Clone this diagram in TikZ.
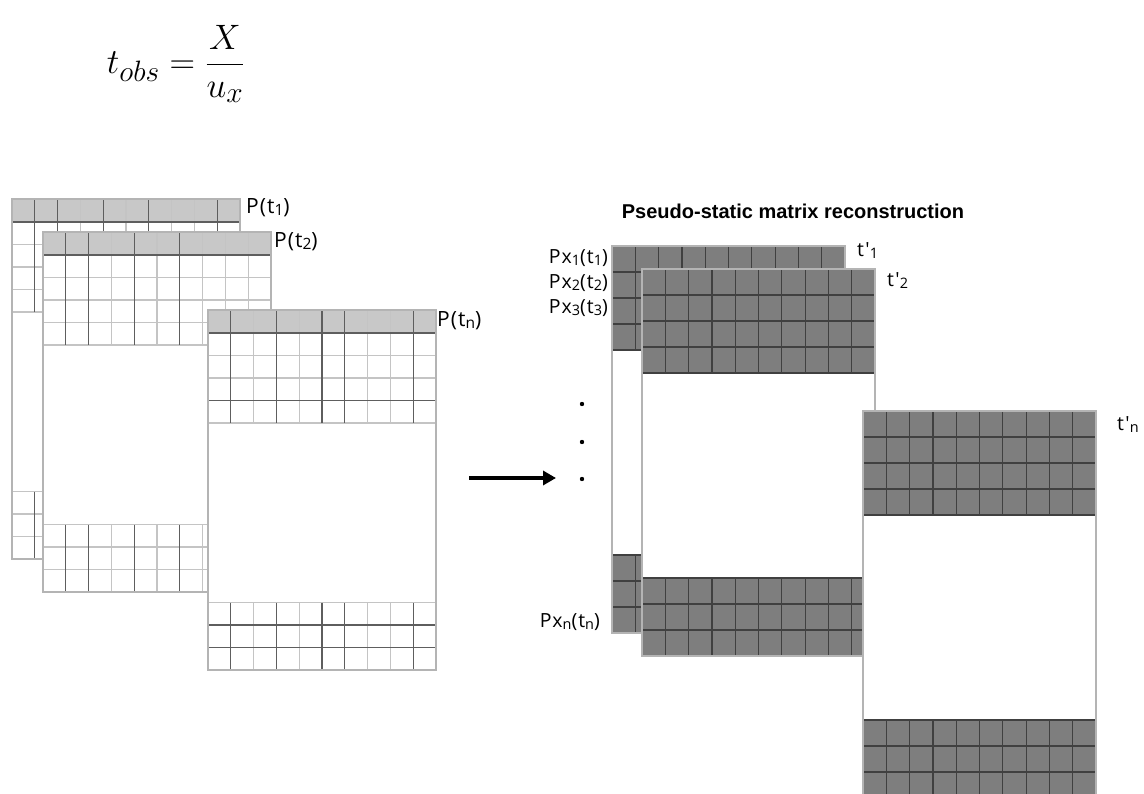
\documentclass[tikz,border=0pt]{standalone}
\usepackage{fontspec}
\usetikzlibrary{arrows.meta}
\newfontfamily\lblfont[LetterSpace=5]{Open Sans}
\newfontfamily\ttlfont{Liberation Sans}

\definecolor{hdrgray}{HTML}{C8C8C8}
\definecolor{frameline}{HTML}{B4B4B4}
\definecolor{gridlite}{HTML}{C4C4C4}
\definecolor{griddark}{HTML}{5E5E5E}
\definecolor{cellfill}{HTML}{7E7E7E}
\definecolor{cellline}{HTML}{404040}

% subscript used in the matrix labels
\newcommand\lsub[1]{\raisebox{-0.1em}{\fontsize{0.74em}{0.8em}\selectfont #1}}

\tikzset{
  lbl/.style={font=\lblfont\fontsize{21}{24}\selectfont, inner sep=0pt},
  rlbl/.style={font=\lblfont\fontsize{19.5}{22}\selectfont, inner sep=0pt},
  litegrid/.style={draw=gridlite, line width=1.1pt},
  darkgrid/.style={draw=griddark, line width=1.1pt},
  cellgrid/.style={draw=cellline, line width=1.2pt},
  outline/.style={draw=frameline, line width=1.1pt},
  bigarrow/.style={line width=4pt, -{Triangle[length=13pt,width=14pt]}},
}

% light matrix: #1,#2 top-left corner; #3 dark columns; #4 dark rows (top band); #5 dark rows (bottom band)
\newcommand\lightmat[5]{%
  \begin{scope}[shift={(#1,#2)}]
    \fill[white] (0,0) rectangle (228,360);
    \fill[hdrgray] (0,0) rectangle (228,23);
    \foreach \k in {1,...,4} {\draw[litegrid] (0,23+\k*22.5) -- (228,23+\k*22.5);}
    \foreach \k in {0,1,2} {\draw[litegrid] (0,292.5+\k*22.5) -- (228,292.5+\k*22.5);}
    \foreach \i in {1,...,9} {
      \draw[litegrid] (\i*22.8,0) -- (\i*22.8,113);
      \draw[litegrid] (\i*22.8,292.5) -- (\i*22.8,360);
    }
    \foreach \k in {#4} {\ifx\k\empty\else\draw[darkgrid] (0,23+\k*22.5) -- (228,23+\k*22.5);\fi}
    \foreach \k in {#5} {\ifx\k\empty\else\draw[darkgrid] (0,292.5+\k*22.5) -- (228,292.5+\k*22.5);\fi}
    \foreach \i in {#3} {
      \draw[darkgrid] (\i*22.8,0) -- (\i*22.8,113);
      \draw[darkgrid] (\i*22.8,292.5) -- (\i*22.8,360);
    }
    \draw[darkgrid] (0,23) -- (228,23);
    \draw[outline] (0,0) rectangle (228,360);
  \end{scope}}

% reconstructed matrix: #1,#2 top-left corner
\newcommand\darkmat[2]{%
  \begin{scope}[shift={(#1,#2)}]
    \fill[white] (0,0) rectangle (233,387);
    \fill[cellfill] (0,0) rectangle (233,104);
    \fill[cellfill] (0,309) rectangle (233,387);
    \foreach \k in {1,2,3,4} {\draw[cellgrid] (0,\k*26) -- (233,\k*26);}
    \foreach \k in {0,1,2} {\draw[cellgrid] (0,309+\k*26) -- (233,309+\k*26);}
    \foreach \i in {1,...,9} {
      \draw[cellgrid] (\i*23.3,0) -- (\i*23.3,104);
      \draw[cellgrid] (\i*23.3,309) -- (\i*23.3,387);
    }
    \draw[outline] (0,0) rectangle (233,387);
  \end{scope}}

\begin{document}
\begin{tikzpicture}[x=1pt,y=-1pt]
  \clip (0,0) rectangle (1144,794);
  \fill[white] (0,0) rectangle (1144,794);

  % observation time
  \node[inner sep=0pt, font=\Huge] (eq) at (176,64)
    {\scalebox{1.42}{$\displaystyle t_{obs}=\frac{X}{u_x}$}};

  % snapshots P(t)
  \lightmat{12}{199}{1,2,4,6,9}{}{}
  \lightmat{43}{232}{1,2,4,6}{}{}
  \lightmat{208}{310}{1,3,5,6,9}{3}{1,2}

  \node[lbl, anchor=west] (p1) at (246,208) {P(t\lsub{1})};
  \node[lbl, anchor=west] (p2) at (274,242) {P(t\lsub{2})};
  \node[lbl, anchor=west] (pn) at (437,321) {P(t\lsub{n})};

  % transformation arrow
  \coordinate (arrA) at (469,478);
  \coordinate (arrB) at (556,478);
  \draw[bigarrow] (arrA) -- (arrB);

  % reconstructed matrices
  \node[inner sep=0pt, font=\ttlfont\bfseries\fontsize{20}{23}\selectfont] (title) at (793,211)
    {Pseudo-static matrix reconstruction};

  \darkmat{612}{246}
  \darkmat{642}{269}
  \darkmat{863}{411}

  \node[rlbl, anchor=east] (px1) at (608,258) {Px\lsub{1}(t\lsub{1})};
  \node[rlbl, anchor=east] (px2) at (608,283) {Px\lsub{2}(t\lsub{2})};
  \node[rlbl, anchor=east] (px3) at (608,308) {Px\lsub{3}(t\lsub{3})};
  \node[rlbl, anchor=east] (pxn) at (600,622) {Px\lsub{n}(t\lsub{n})};

  \node[rlbl, anchor=west] (tp1) at (857,251) {t'\lsub{1}};
  \node[rlbl, anchor=west] (tp2) at (887,281) {t'\lsub{2}};
  \node[rlbl, anchor=west] (tpn) at (1117,425) {t'\lsub{n}};

  % ellipsis between rows
  \foreach \yy/\nm in {404/d1, 442/d2, 479/d3}
    \fill (582,\yy) circle (2.2) coordinate (\nm);
\end{tikzpicture}
\end{document}
